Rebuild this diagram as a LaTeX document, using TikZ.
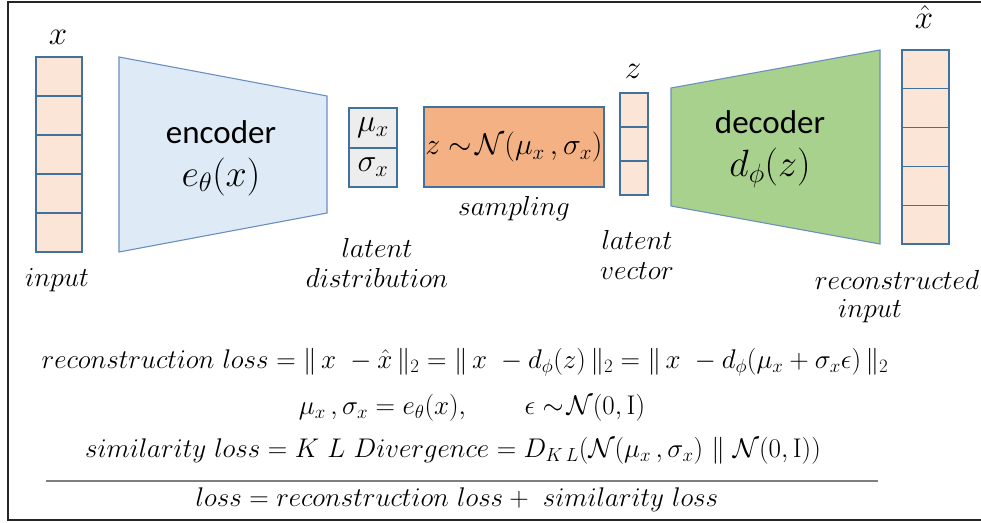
\RequirePackage{fix-cm}
\documentclass[tikz,border=0pt]{standalone}
\usepackage{amsmath}
\usepackage{fontspec}
\newfontfamily\blockfont{Carlito}
\usetikzlibrary{positioning, calc}
\definecolor{cellfill}{HTML}{FBE5D6}
\definecolor{celldraw}{HTML}{41719C}
\definecolor{encfill}{HTML}{DEEBF7}
\definecolor{encdraw}{HTML}{6C8EBF}
\definecolor{gaussfill}{HTML}{EDEDED}
\definecolor{samplefill}{HTML}{F4B183}
\definecolor{decfill}{HTML}{A9D18E}
\definecolor{rulegray}{HTML}{7F7F7F}

\begin{document}
\begin{tikzpicture}[
        x=1pt, y=-1pt,
        cell/.style={
          draw=celldraw,
          fill=cellfill,
          line width=1.1pt,
          inner sep=0pt,
          outer sep=0pt
        },
        trap/.style={draw=encdraw, line width=1.1pt},
        blocktext/.style={font=\blockfont\fontsize{33}{43}\selectfont, align=center, inner sep=0pt},
        lbl/.style={font=\fontsize{27.5}{30}\selectfont, align=center, inner sep=0pt},
        toplbl/.style={font=\fontsize{33}{36}\selectfont, inner sep=0pt},
        eqn/.style={font=\fontsize{27}{30}\selectfont, inner sep=0pt}
      ]

      \path[use as bounding box, clip] (0,0) rectangle (981,522);
      \draw[line width=2pt, black!85] (8,2) rectangle (1000,520);

      \foreach \i in {0,...,4}
        \node[cell, minimum width=46pt, minimum height=39pt] (in\i) at (59, {76.5+39*\i}) {};
      \node[toplbl] (xlabel) at (58,37) {$x$};
      \node[lbl] (inputlbl) at (57,280) {$input$};

      \draw[trap, fill=encfill] (119,57) -- (327,96) -- (327,213) -- (119,252) -- cycle;
      \node[blocktext] (enctext) at (221,158) {encoder\\{\fontsize{38}{40}\selectfont$e_\theta(x)$}};

      \node[cell, fill=gaussfill, minimum width=48pt, minimum height=40pt, font=\fontsize{32}{34}\selectfont] (mu) at (373,128) {$\mu_x$};
      \node[cell, fill=gaussfill, minimum width=48pt, minimum height=39pt, font=\fontsize{32}{34}\selectfont, below=0pt of mu] (sigma) {$\sigma_x$};
      \node[lbl] (latentdist) at (377,263) {$latent$\\$distribution$};

      \node[cell, fill=samplefill, minimum width=180pt, minimum height=80pt, font=\fontsize{30}{32}\selectfont] (sample) at (514,147) {$z\sim\!\mathcal{N}(\mu_x\,,\sigma_x)$};
      \node[lbl, below=9pt of sample] (samplelbl) {$sampling$};

      \foreach \i in {0,...,2}
        \node[cell, minimum width=28pt, minimum height=34pt] (z\i) at (634, {110+34*\i}) {};
      \node[toplbl] (zlabel) at (633,71) {$z$};
      \node[lbl] (latentvec) at (637,255) {$latent$\\$vector$};

      \draw[trap, fill=decfill] (671,88) -- (880,50) -- (880,244) -- (671,206) -- cycle;
      \node[blocktext] (dectext) at (770,149) {decoder\\{\fontsize{38}{40}\selectfont$d_\phi(z)$}};

      \foreach \i in {0,...,4}
        \node[cell, minimum width=47pt, minimum height=38.8pt] (out\i) at (925.5, {69.4+38.8*\i}) {};
      \node[toplbl] (xhatlabel) at (924,17) {$\hat{x}$};
      \node[lbl] (reconlbl) at (897,280) {$reconstructed$};
      \node[lbl] (reconinput) at (870,311) {$input$};

      \node[eqn] (recon) at (465,362) {$reconstruction\ loss = \Vert\, x\ -\hat{x}\,\Vert_2 = \Vert\, x\ - d_\phi(z)\,\Vert_2 = \Vert\, x\ - d_\phi(\mu_x+\sigma_x\epsilon)\,\Vert_2$};
      \node[eqn] (params) at (472,408) {$\mu_x\,,\sigma_x = e_\theta(x),\qquad \epsilon\sim\!\mathcal{N}(0,\mathrm{I})$};
      \node[eqn] (simil) at (453,451) {$similarity\ loss = K\ L\ Divergence = D_{K\,L}(\mathcal{N}(\mu_x\,,\sigma_x)\ \Vert\ \mathcal{N}(0,\mathrm{I}))$};
      \coordinate (ruleL) at (46,481);
      \coordinate (ruleR) at (878,481);
      \draw[rulegray, line width=1.6pt] (ruleL) -- (ruleR);
      \node[eqn] (total) at (457,500) {$loss = reconstruction\ loss +\ similarity\ loss$};
    \end{tikzpicture}
\end{document}
